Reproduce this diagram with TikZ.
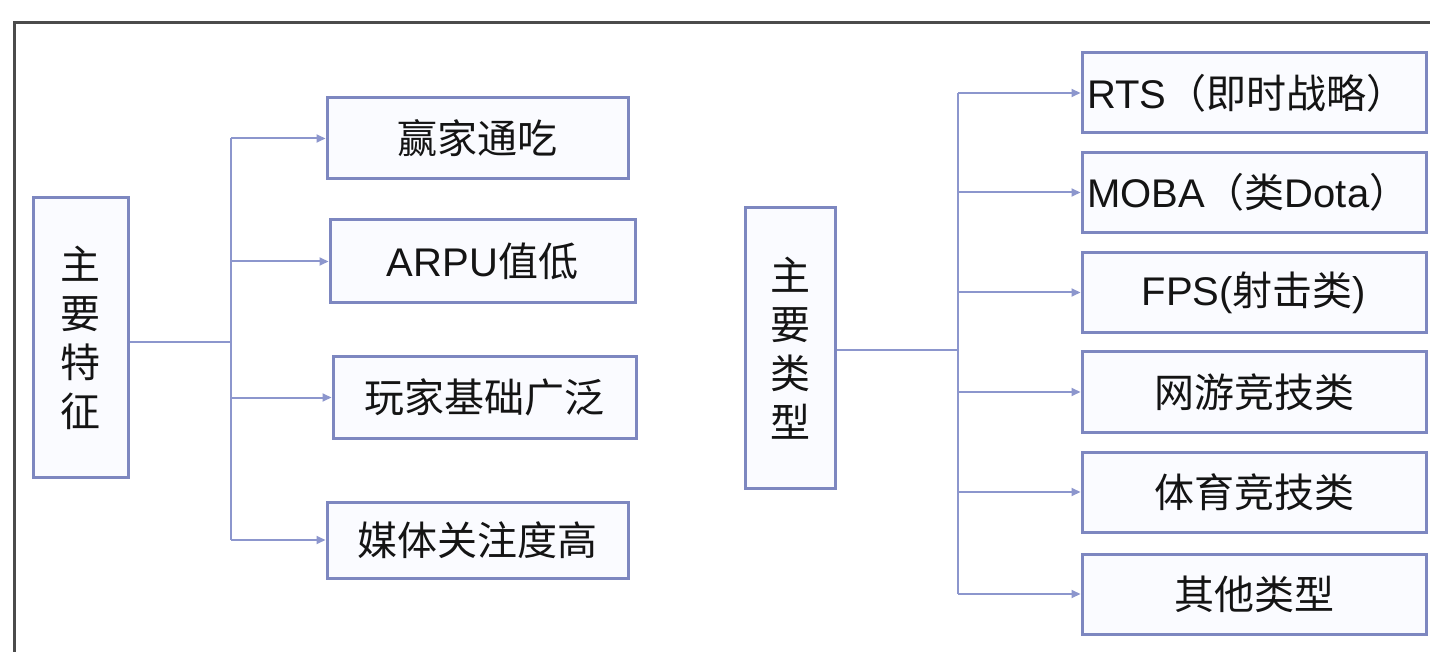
\documentclass[tikz,border=0pt]{standalone}
\usepackage{fontspec}
\setmainfont{Liberation Sans}
\newfontfamily\cjk{Noto Sans CJK SC}
\usetikzlibrary{arrows.meta}
\definecolor{boxc}{RGB}{125,135,192}
\definecolor{linec}{RGB}{140,150,205}
\definecolor{framec}{RGB}{75,75,75}
\definecolor{txt}{RGB}{20,20,20}
\definecolor{boxfill}{RGB}{250,251,255}
\begin{document}
\begin{tikzpicture}[x=1pt,y=-1pt,
  box/.style={draw=boxc, line width=3pt, fill=boxfill, inner sep=0pt, text=txt,
    font=\fontsize{40}{46}\selectfont},
  mainbox/.style={box, align=center, font=\cjk\fontsize{40}{49}\selectfont},
  childl/.style={box, minimum height=80pt},
  childr/.style={box, minimum width=344pt, minimum height=80pt},
  leftbox/.style={box, text width=334pt, inner xsep=5pt, minimum height=80pt, align=left},
  conn/.style={draw=linec, line width=2pt},
  arr/.style={conn, -{Triangle[length=9pt,width=8pt]}},
]
\useasboundingbox (0,0) rectangle (1430,652);
\fill[white] (0,0) rectangle (1430,652);
% outer frame
\draw[framec, line width=3pt] (14.5,670) -- (14.5,23) -- (1450,23);

% left group
\node[mainbox, minimum width=95pt, minimum height=279pt] (L) at (80.5,337.5) {主\\要\\特\\征};
\node[childl, minimum width=301pt, minimum height=81pt] (l1) at (477.5,138.5) {\cjk 赢家通吃};
\node[childl, minimum width=305pt, minimum height=83pt] (l2) at (482.5,261.5) {ARPU{\cjk 值低}};
\node[childl, minimum width=303pt, minimum height=81pt] (l3) at (484.5,397.5) {\cjk 玩家基础广泛};
\node[childl, minimum width=301pt, minimum height=76pt] (l4) at (477.5,540) {\cjk 媒体关注度高};
\coordinate (tL) at (231,342);
\draw[conn] (L.east |- tL) -- (tL);
\draw[conn] (tL |- l1.west) -- (tL |- l4.west);
\draw[arr] (tL |- l1.west) -- (l1.west);
\draw[arr] (tL |- l2.west) -- (l2.west);
\draw[arr] (tL |- l3.west) -- (l3.west);
\draw[arr] (tL |- l4.west) -- (l4.west);

% right group
\node[mainbox, minimum width=90pt, minimum height=280pt] (R) at (790,348) {主\\要\\类\\型};
\node[leftbox] (r1) at (1254,93) {RTS{\cjk （即时战略）}};
\node[leftbox] (r2) at (1254,192.5) {MOBA{\cjk （类}Dota{\cjk ）}};
\node[childr] (r3) at (1254,292.5) {FPS({\cjk 射击类})};
\node[childr] (r4) at (1254,392) {\cjk 网游竞技类};
\node[childr] (r5) at (1254,492) {\cjk 体育竞技类};
\node[childr] (r6) at (1254,594) {\cjk 其他类型};
\coordinate (tR) at (958,350);
\draw[conn] (R.east |- tR) -- (tR);
\draw[conn] (tR |- r1.west) -- (tR |- r6.west);
\foreach \n in {r1,r2,r3,r4,r5,r6}
  \draw[arr] (tR |- \n.west) -- (\n.west);
\end{tikzpicture}
\end{document}
